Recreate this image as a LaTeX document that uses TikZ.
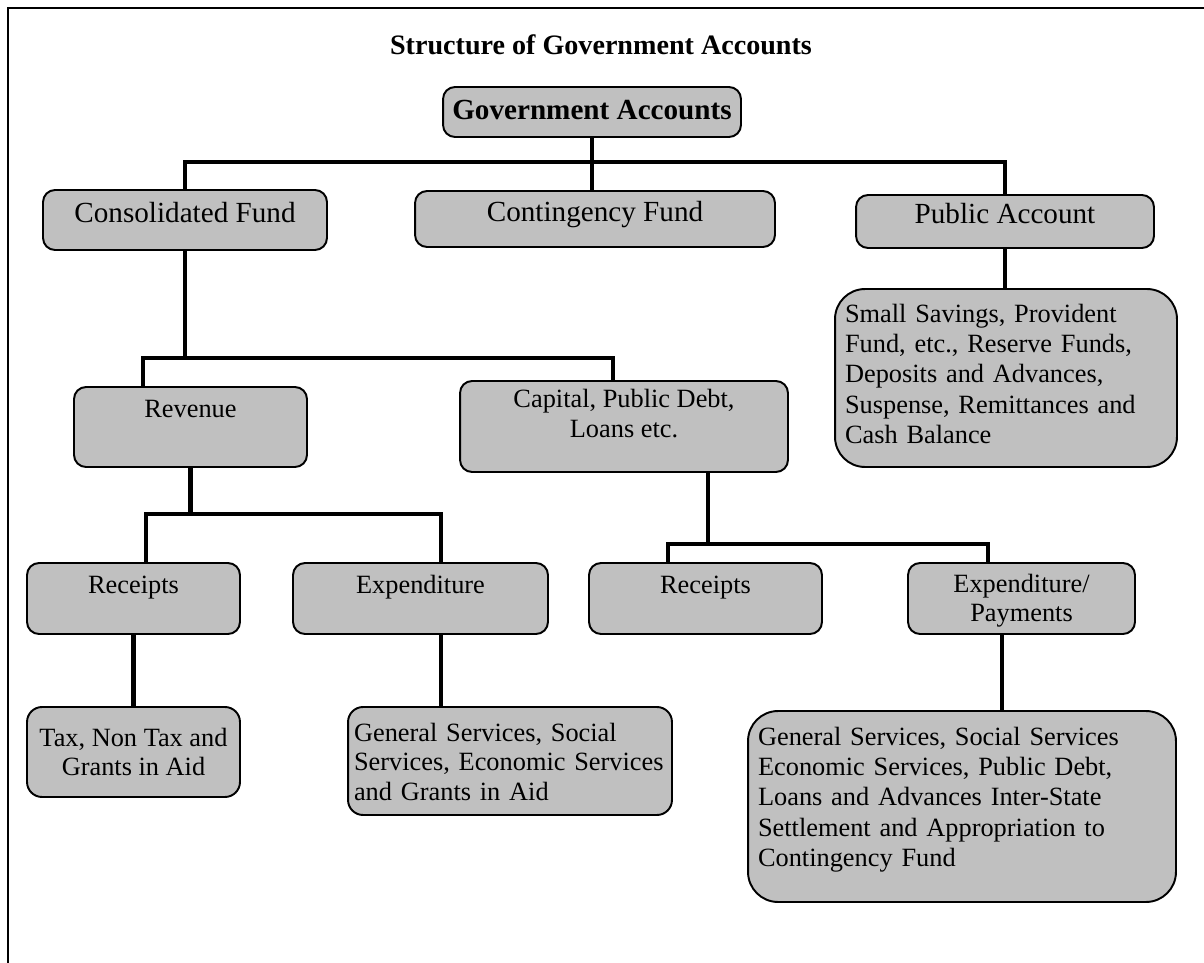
\documentclass[tikz,border=0pt]{standalone}
\usepackage{fontspec}
\setmainfont{Liberation Serif}
\usepackage{tikz}
\usetikzlibrary{calc}
\definecolor{boxgray}{RGB}{192,192,192}

\tikzset{
  acct/.style={draw, fill=boxgray, line width=1.1pt, rounded corners=0.24cm,
    inner xsep=0.12cm, inner ysep=0.1cm, align=center,
    font=\fontsize{15}{17}\selectfont},
  topacct/.style={acct, font=\fontsize{16.6}{20}\selectfont,
    text height=0.38cm, text depth=0.3cm},
  rowacct/.style={acct, text height=0.3cm, text depth=0.52cm},
  listacct/.style={acct, align=left, text height=0.4cm},
  link/.style={line width=2.6pt},
}

\begin{document}
\begin{tikzpicture}[x=0.02cm, y=-0.02cm]
      \useasboundingbox (0,0) rectangle (1204,963);
      \draw[line width=1.1pt] (1204,8) -| (8,963);

      \node (title) at (601,45) {\fontsize{16}{19}\selectfont\bfseries Structure of Government Accounts};

      % top level
      \node (gov)[topacct, font=\fontsize{16.6}{20}\selectfont\bfseries, text height=0.5cm, text depth=0.18cm, minimum width=5.96cm, minimum height=1cm] at (592,112) {Government Accounts};
      \node (cons)[topacct, minimum width=5.68cm, minimum height=1.2cm] at (185,220) {Consolidated Fund};
      \node (cont)[topacct, minimum width=7.2cm, minimum height=1.12cm] at (595,219) {Contingency Fund};
      \node (pub)[topacct, minimum width=5.96cm, minimum height=1.06cm] at (1005,221.5) {Public Account};
      \node (small)[listacct, rounded corners=0.6cm, inner xsep=0.2cm, text width=6.44cm, text depth=2.64cm, font=\fontsize{15}{17.3}\selectfont, minimum width=6.84cm, minimum height=3.56cm] at (1006,378)
        {Small Savings, Provident\\Fund, etc., Reserve Funds,\\Deposits and Advances,\\Suspense, Remittances and\\Cash Balance};

      % consolidated fund
      \node (rev)[acct, text height=0.3cm, text depth=0.7cm, minimum width=4.66cm, minimum height=1.6cm] at (190.5,427) {Revenue};
      \node (cap)[acct, text height=1cm, text depth=0.58cm, minimum width=6.56cm, minimum height=1.82cm] at (624,426.5) {Capital, Public Debt,\\Loans etc.};

      \node (rec1)[rowacct, minimum width=4.26cm, minimum height=1.42cm] at (133.5,598.5) {Receipts};
      \node (exp1)[rowacct, minimum width=5.1cm, minimum height=1.42cm] at (420.5,598.5) {Expenditure};
      \node (rec2)[rowacct, minimum width=4.66cm, minimum height=1.42cm] at (705.5,598.5) {Receipts};
      \node (exppay)[acct, font=\fontsize{15}{16.5}\selectfont, text height=1cm, text depth=0.1cm, minimum width=4.54cm, minimum height=1.42cm] at (1021.5,598.5) {Expenditure/\\Payments};

      \node (tax)[acct, rounded corners=0.3cm, minimum width=4.26cm, minimum height=1.8cm] at (133.5,752) {Tax, Non Tax and\\Grants in Aid};
      \node (gen1)[listacct, rounded corners=0.3cm, text width=6.24cm, minimum width=6.48cm, minimum height=2.16cm] at (510,761)
        {General Services, Social\\Services, Economic Services\\and Grants in Aid};
      \node (gen2)[listacct, rounded corners=0.6cm, inner xsep=0.2cm, text width=8.16cm, text depth=2.86cm, font=\fontsize{15}{17.3}\selectfont, minimum width=8.56cm, minimum height=3.82cm] at (962,806.5)
        {General Services, Social Services\\Economic Services, Public Debt,\\Loans and Advances Inter-State\\Settlement and Appropriation to\\Contingency Fund};

      % connectors
      \draw[link] (gov.south) -- (gov.south |- cont.north);
      \draw[link] (cons.north) -- ++(0,-27) -| (pub.north);
      \draw[link] (pub.south) -- (pub.south |- small.north);

      \draw[link] (cons.south) -- ++(0,107) coordinate (consjoin);
      \draw[link] ([xshift=-0.95cm]rev.north) |- (consjoin) -| ([xshift=-0.22cm]cap.north);

      \draw[link] (rev.south) -- ++(0,46) coordinate (revjoin);
      \draw[link] ([xshift=0.25cm]rec1.north) |- (revjoin) -| ([xshift=0.41cm]exp1.north);

      \draw[link] ([xshift=1.68cm]cap.south) -- ++(0,71) coordinate (capjoin);
      \draw[link] ([xshift=-0.75cm]rec2.north) |- (capjoin) -| ([xshift=-0.67cm]exppay.north);

      \draw[link] (rec1.south) -- (tax.north);
      \draw[link] ([xshift=0.41cm]exp1.south) -- ([xshift=0.41cm]exp1.south |- gen1.north);
      \draw[link] ([xshift=-0.39cm]exppay.south) -- ([xshift=-0.39cm]exppay.south |- gen2.north);

    \end{tikzpicture}
\end{document}
